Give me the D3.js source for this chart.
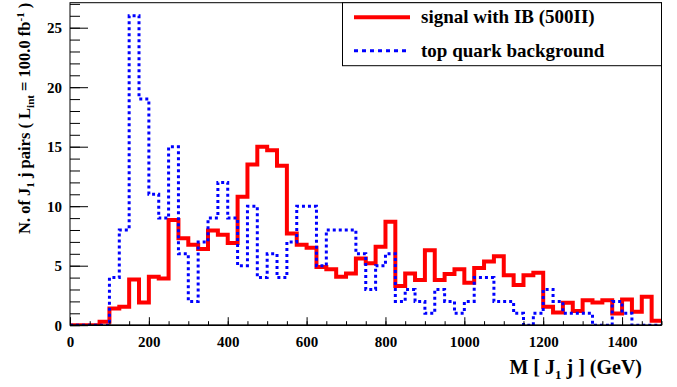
<!DOCTYPE html>
<html>
<head>
<meta charset="utf-8">
<script src="https://cdn.jsdelivr.net/npm/d3@7"></script>
<style>
  html, body { margin: 0; padding: 0; background: #fff; }
</style>
</head>
<body>
<svg id="chart" width="677" height="387"></svg>
<script>
// Histogram binning: 60 bins of 25 GeV between 0 and 1500 GeV
const binLow = 0;
const binWidth = 25;
const binEdges = d3.range(binLow, 1500 + binWidth, binWidth);

// Bin contents, signal with IB (500II)
const signalCounts = [
  0, 0, 0, 0.3, 1.4, 1.55, 3.85, 1.9, 4.07, 3.93,
  8.85, 7.3, 6.75, 6.4, 7.95, 7.6, 6.9, 10.8, 13.5, 15.0,
  14.7, 13.4, 7.7, 6.75, 6.5, 4.9, 4.7, 4.07, 4.35, 5.6,
  5.2, 6.6, 8.7, 3.3, 4.35, 3.8, 6.3, 3.8, 4.3, 4.7,
  3.57, 4.8, 5.35, 5.8, 4.2, 3.37, 4.2, 4.4, 1.55, 1.07,
  1.88, 1.2, 2.1, 1.9, 2.1, 0.99, 2.17, 1.12, 2.4, 0.37
];

// Bin contents, top quark background
const backgroundCounts = [
  0, 0, 0, 0, 4, 8, 26, 19, 11, 9,
  15, 6, 2, 7, 9, 12, 9, 5, 10, 4,
  6, 4, 7, 10, 10, 5, 8, 8, 8, 6,
  3, 5, 6, 2, 3, 2, 1, 3, 2, 1,
  2, 4, 4, 2, 2, 1, 0, 1, 3, 2,
  1, 1, 1, 0, 0, 2, 1, 0, 0, 0
];

const xMajorTicks = [0, 200, 400, 600, 800, 1000, 1200, 1400];
const xMinorTicks = d3.range(0, 1501, 50);
const yMajorTicks = [0, 5, 10, 15, 20, 25];
const yMinorTicks = d3.range(0, 28, 1);

const legendLabels = ["signal with IB (500II)", "top quark background"];

const FONT = "'Liberation Serif', 'Times New Roman', Times, serif";

const svg = d3.select("#chart");
const frame = { left: 70, right: 661.5, top: 2.7, bottom: 325.2 };

const x = d3.scaleLinear().domain([0, 1500]).range([frame.left, frame.right]);
const y = d3.scaleLinear().domain([0, 27.1]).range([frame.bottom, frame.top]);

svg.append("defs").append("clipPath").attr("id", "plotClip")
  .append("rect")
  .attr("x", frame.left).attr("y", frame.top - 2)
  .attr("width", frame.right - frame.left).attr("height", frame.bottom - frame.top + 2);

// Step outline of a histogram
function histPoints(counts) {
  const pts = counts.map((c, i) => [binEdges[i], c]);
  pts.push([binEdges[counts.length], counts[counts.length - 1]]);
  return pts;
}
const stepLine = d3.line()
  .x(d => x(d[0]))
  .y(d => y(d[1]))
  .curve(d3.curveStepAfter);

const plot = svg.append("g").attr("clip-path", "url(#plotClip)");

plot.append("path")
  .datum(histPoints(signalCounts))
  .attr("d", stepLine)
  .attr("fill", "none")
  .attr("stroke", "#ff0000")
  .attr("stroke-width", 4);

plot.append("path")
  .datum(histPoints(backgroundCounts))
  .attr("d", stepLine)
  .attr("fill", "none")
  .attr("stroke", "#0000ff")
  .attr("stroke-width", 3)
  .attr("stroke-dasharray", "3,3");

// Frame
svg.append("rect")
  .attr("x", frame.left).attr("y", frame.top)
  .attr("width", frame.right - frame.left)
  .attr("height", frame.bottom - frame.top)
  .attr("fill", "none").attr("stroke", "#000").attr("stroke-width", 1);

// X axis: ticks point into the frame
const xMinor = svg.append("g")
  .attr("transform", `translate(0,${frame.bottom})`)
  .call(d3.axisBottom(x).tickValues(xMinorTicks).tickSize(-4).tickFormat(""));
const xMajor = svg.append("g")
  .attr("transform", `translate(0,${frame.bottom})`)
  .call(d3.axisBottom(x).tickValues(xMajorTicks).tickSize(-8).tickPadding(11).tickFormat(d3.format("d")));
[xMinor, xMajor].forEach(g => {
  g.select(".domain").remove();
  g.selectAll("line").attr("stroke", "#000");
});

// Y axis
const yMinor = svg.append("g")
  .attr("transform", `translate(${frame.left},0)`)
  .call(d3.axisLeft(y).tickValues(yMinorTicks).tickSize(-10).tickFormat(""));
const yMajor = svg.append("g")
  .attr("transform", `translate(${frame.left},0)`)
  .call(d3.axisLeft(y).tickValues(yMajorTicks).tickSize(-18).tickPadding(8).tickFormat(d3.format("d")));
[yMinor, yMajor].forEach(g => {
  g.select(".domain").remove();
  g.selectAll("line").attr("stroke", "#000");
});

[xMajor, yMajor].forEach(g => {
  g.selectAll("text")
    .style("font-family", FONT)
    .style("font-weight", "bold")
    .style("font-size", "15px")
    .attr("fill", "#000");
});

// Bottom axis line
svg.append("line")
  .attr("x1", frame.left).attr("x2", frame.right)
  .attr("y1", frame.bottom).attr("y2", frame.bottom)
  .attr("stroke", "#000").attr("stroke-width", 1.5);

function styleText(sel, size) {
  return sel.style("font-family", FONT).style("font-weight", "bold")
    .style("font-size", size + "px").attr("fill", "#000");
}

// Axis titles
const xTitle = styleText(svg.append("text"), 20)
  .attr("x", 642).attr("y", 374)
  .attr("text-anchor", "end");
xTitle.append("tspan").text("M [ J");
xTitle.append("tspan").style("font-size", "13px").attr("dy", 5).text("1");
xTitle.append("tspan").attr("dy", -5).text(" j ] (GeV)");

const yTitle = styleText(svg.append("text"), 16.5)
  .attr("transform", `translate(29.5,${frame.top}) rotate(-90)`)
  .attr("text-anchor", "end");
yTitle.append("tspan").text("N. of J");
yTitle.append("tspan").style("font-size", "11px").attr("dy", 4).text("1");
yTitle.append("tspan").attr("dy", -4).text(" j pairs ( L");
yTitle.append("tspan").style("font-size", "11px").attr("dy", 4).text("int");
yTitle.append("tspan").attr("dy", -4).text(" = 100.0 fb");
yTitle.append("tspan").style("font-size", "11px").attr("dy", -6).text("-1");
yTitle.append("tspan").attr("dy", 6).text(" )");

// Legend
const legend = svg.append("g");
legend.append("rect")
  .attr("x", 342.5).attr("y", frame.top)
  .attr("width", frame.right - 342.5).attr("height", 65.7 - frame.top)
  .attr("fill", "#fff").attr("stroke", "#000").attr("stroke-width", 1);
const legendStyles = [
  { color: "#ff0000", width: 4, dash: null, y: 17.3 },
  { color: "#0000ff", width: 3, dash: "4,4", y: 50.7 }
];
legendLabels.forEach((label, i) => {
  const s = legendStyles[i];
  legend.append("line")
    .attr("x1", 354).attr("x2", 410)
    .attr("y1", s.y).attr("y2", s.y)
    .attr("stroke", s.color).attr("stroke-width", s.width)
    .attr("stroke-dasharray", s.dash);
  styleText(legend.append("text"), 19)
    .attr("x", 421).attr("y", s.y + 6)
    .text(label);
});
</script>
</body>
</html>
